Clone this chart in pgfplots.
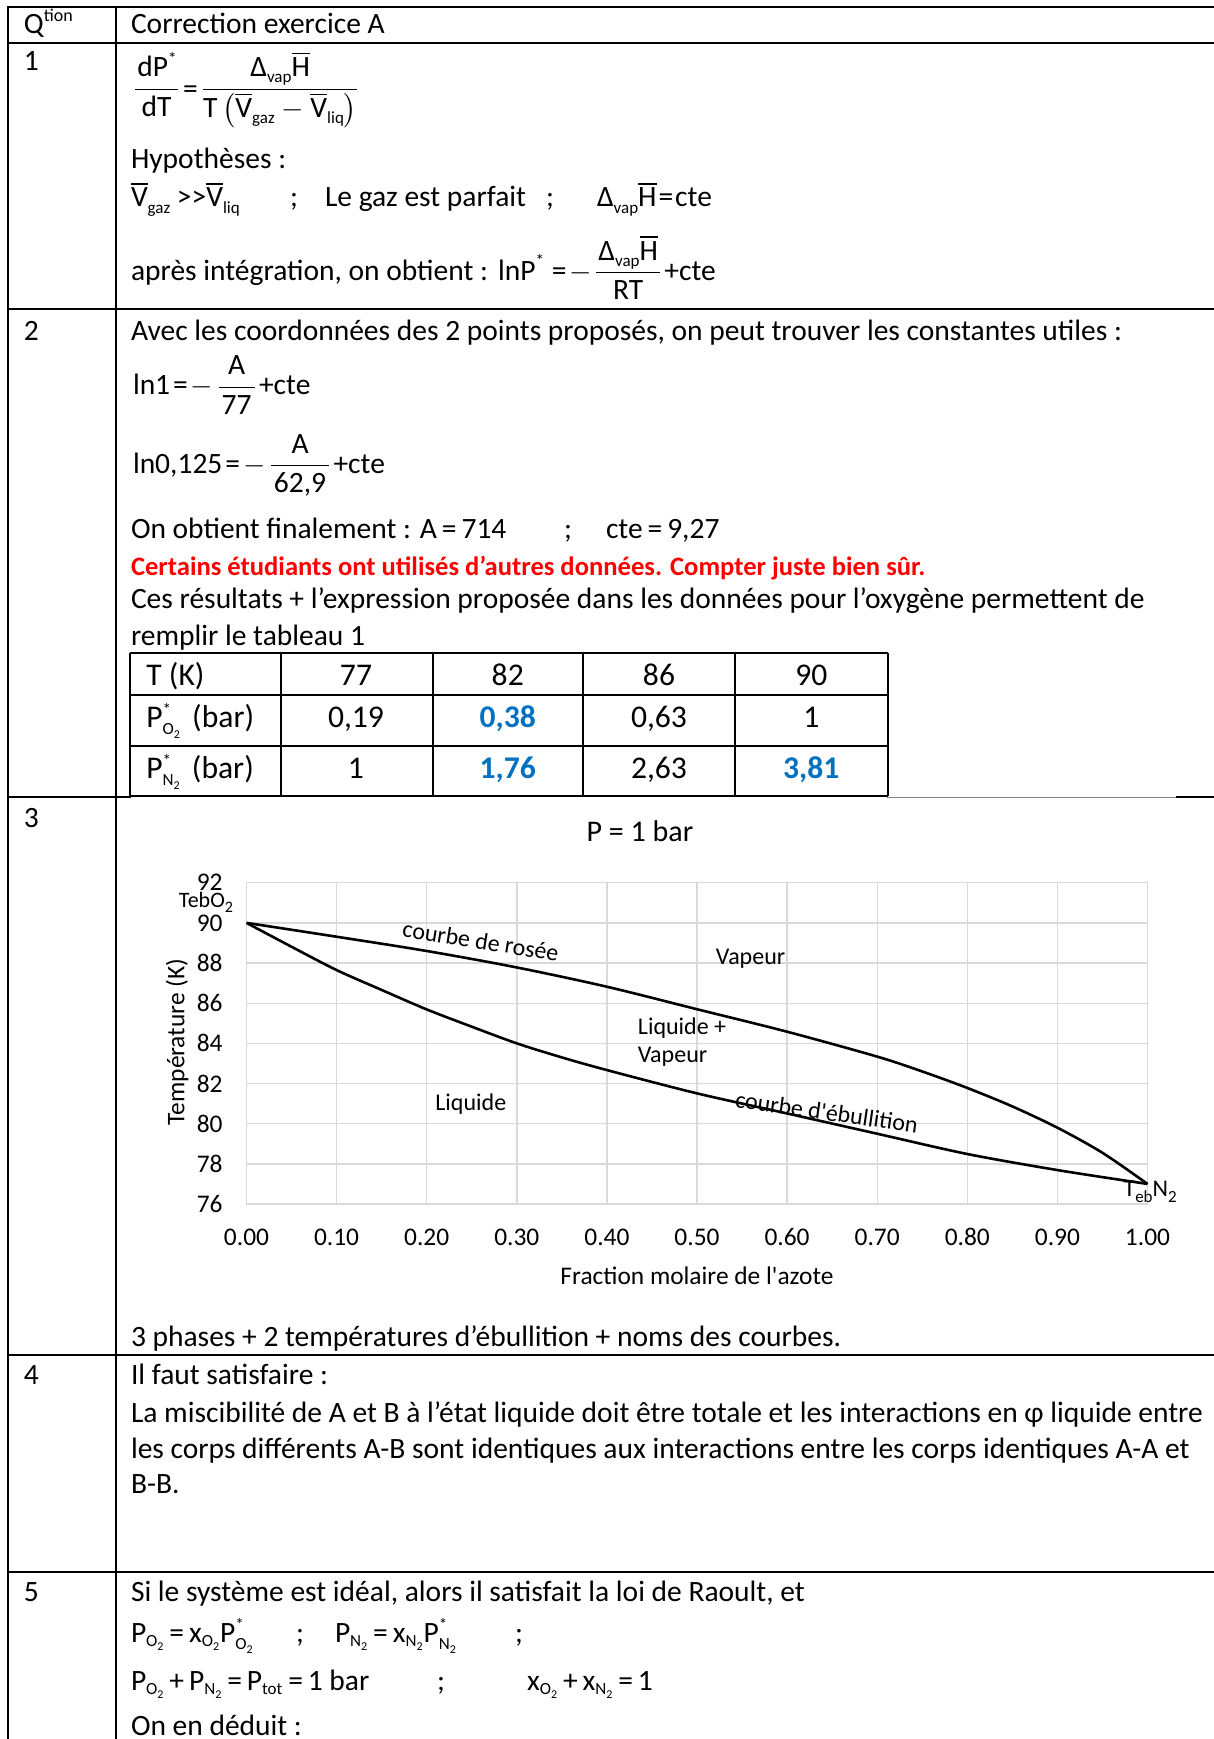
\documentclass[border=0pt]{standalone}
\usepackage{amsmath}
\usepackage{pgfplots}
\pgfplotsset{compat=1.18}
\usepackage{fontspec}
\setmainfont{Carlito}
\definecolor{redtxt}{HTML}{FF0000}
\definecolor{bluetxt}{HTML}{0070C0}
\definecolor{gridc}{HTML}{D9D9D9}
\newcommand{\fs}[1]{\fontsize{#1}{#1}\selectfont}
\newcommand{\lo}[1]{\raisebox{-3pt}{\fs{8.5}#1}}
\newcommand{\llo}[1]{\raisebox{-2pt}{\fs{6}#1}}
\newcommand{\ovl}[1]{\ensuremath{\overline{\hbox{#1}}}}
\newcommand{\Ps}[1]{\ensuremath{\hbox{P}^{\hbox{\fs{8.5}*}}_{\hbox{\fs{8.5}#1}}}}
\newcommand{\Pn}[1]{\ensuremath{\hbox{P}_{\hbox{\fs{8.5}#1}}}}
\newcommand{\xn}[1]{\ensuremath{\hbox{x}_{\hbox{\fs{8.5}#1}}}}
\newcommand{\Otwo}{O\llo{2}}
\newcommand{\Ntwo}{N\llo{2}}
\newcommand{\mn}{\ensuremath{-}}
\begin{document}
\begin{tikzpicture}
\useasboundingbox (0,0) rectangle (607pt,-869.5pt);
\begin{scope}[x=0.5pt,y=-0.5pt, every node/.style={inner sep=0pt, outer sep=0pt, anchor=base west, font=\fs{14.75}}]
% outer table lines
\draw[line width=1.3pt] (8,7) -- (1214,7);
\foreach \yy in {43,309,1355,1572} \draw[line width=1pt] (8,\yy) -- (1214,\yy);
\draw[line width=1pt] (8,6.5) -- (8,1739);
\draw[line width=1pt] (116,6.5) -- (116,1739);
\draw[line width=1pt] (8,797) -- (131,797);
\draw[line width=0.5pt, gray] (887,797) -- (1176,797);
\draw[line width=1pt] (1176,797) -- (1214,797);
% inner table
\foreach \yy in {653,695,746,796} \draw[line width=1pt] (130,\yy) -- (887.6,\yy);
\foreach \xx in {130,281,432.5,583,735,887.6} \draw[line width=1pt] (\xx,653) -- (\xx,796);
% header
\node at (24,34) {Q\raisebox{6pt}{\fs{9}tion}};
\node at (131,34) {Correction exercice A};
% row 1
\node at (24,71) {1};
\node at (133,96.3) {$\dfrac{\hbox{\kern1pt dP}^{\hbox{\fs{8.5}*}}}{\hbox{dT}}\hbox{\kern1.5pt\raisebox{-1.2pt}{=}\kern1.5pt}\dfrac{\hbox{Δ\lo{vap}\ovl{H}}}{\hbox{T}\left(\hbox{\ovl{V}\lo{gaz}}\hbox{ \mn{} }\hbox{\ovl{V}\lo{liq}}\right)}$};
\node at (131,169) {Hypothèses :};
\node at (131,207) {\ovl{V}\lo{gaz}\ >{}>\ovl{V}\lo{liq}};
\node at (290,207) {;};
\node at (325,207) {Le gaz est parfait};
\node at (546,207) {;};
\node at (597,207) {Δ\lo{vap}\ovl{H}\kern1pt=\kern1pt cte};
\node at (131,280) {après intégration, on obtient :};
\node at (498,280) {lnP\raisebox{7pt}{\fs{8.5}*}\kern4pt=\kern1.5pt\mn\kern1pt$\dfrac{\hbox{\kern1pt Δ\lo{vap}\ovl{H}\kern1pt}}{\hbox{RT}}$\kern1pt+cte};
% row 2
\node at (24,340) {2};
\node at (131,340) {Avec les coordonnées des 2 points proposés, on peut trouver les constantes utiles :};
\node at (133,394.3) {ln1\kern1.5pt=\kern1.5pt\mn\kern1.5pt$\dfrac{\hbox{\kern2pt A\kern2pt}}{\hbox{\kern1.5pt 77\kern1.5pt}}$\kern1pt+cte};
\node at (133,473) {ln0,125\kern1.5pt=\kern1.5pt\mn\kern1.5pt$\dfrac{\hbox{A}}{\hbox{\kern1.5pt 62,9\kern1.5pt}}$\kern1pt+cte};
\node at (131,538) {On obtient finalement : A\,=\,714};
\node at (564,538) {;};
\node at (606,538) {cte\,=\,9,27};
\node[text=redtxt, font=\fs{13.3}\bfseries] at (131,575) {Certains étudiants ont utilisés d’autres données. Compter juste bien sûr.};
\node at (131,608) {Ces résultats + l’expression proposée dans les données pour l’oxygène permettent de};
\node at (131,645) {remplir le tableau 1};
% inner table text
\begin{scope}[every node/.style={inner sep=0pt, anchor=base, font=\fs{15.8}}]
\node[anchor=base west] at (146,685) {T (K)};
\node at (356,685) {77};
\node at (507.75,685) {82};
\node at (659,685) {86};
\node at (811.3,685) {90};
\node[anchor=base west] at (146,727) {\Ps{\Otwo}\kern2pt\ (bar)};
\node at (356,727) {0,19};
\node[text=bluetxt, font=\fs{15.8}\bfseries] at (507.75,727) {0,38};
\node at (659,727) {0,63};
\node at (811.3,727) {1};
\node[anchor=base west] at (146,778) {\Ps{\Ntwo}\kern2pt\ (bar)};
\node at (356,778) {1};
\node[text=bluetxt, font=\fs{15.8}\bfseries] at (507.75,778) {1,76};
\node at (659,778) {2,63};
\node[text=bluetxt, font=\fs{15.8}\bfseries] at (811.3,778) {3,81};
\end{scope}
% row 3
\node at (24,827) {3};
\node at (131,1346) {3 phases + 2 températures d’ébullition + noms des courbes.};
% row 4
\node at (24,1384) {4};
\node at (131,1384) {Il faut satisfaire :};
\node at (131,1422) {La miscibilité de A et B à l’état liquide doit être totale et les interactions en φ liquide entre};
\node at (131,1458.5) {les corps différents A-B sont identiques aux interactions entre les corps identiques A-A et};
\node at (131,1493) {B-B.};
% row 5
\node at (24,1601.5) {5};
\node at (131,1601.5) {Si le système est idéal, alors il satisfait la loi de Raoult, et};
\node at (131,1642) {\Pn{\Otwo}\,=\,\xn{\Otwo}\Ps{\Otwo}};
\node at (296,1642) {;};
\node at (335,1642) {\Pn{\Ntwo}\,=\,\xn{\Ntwo}\Ps{\Ntwo}};
\node at (515,1642) {;};
\node at (131,1690) {\Pn{\Otwo}\,+\,\Pn{\Ntwo}\,=\,\Pn{tot}\,=\,1 bar};
\node at (437,1690) {;};
\node at (527,1690) {\xn{\Otwo}\,+\,\xn{\Ntwo}\,=\,1};
\node at (131,1735) {On en déduit :};
\end{scope}
\begin{axis}[
  at={(123.25pt,-602pt)}, anchor=south west,
  scale only axis, width=450.5pt, height=160.65pt,
  xmin=0, xmax=1, ymin=76, ymax=92, clip=false,
  xtick={0,0.1,0.2,0.3,0.4,0.5,0.6,0.7,0.8,0.9,1},
  ytick={76,78,80,82,84,86,88,90,92},
  grid=major, major grid style={draw=gridc, line width=0.7pt},
  axis line style={draw=gridc, line width=0.7pt},
  major tick length=0pt,
  /pgf/number format/assume math mode=true,
  xticklabel style={/pgf/number format/fixed, /pgf/number format/fixed zerofill, /pgf/number format/precision=2, anchor=center, yshift=-16.5pt, font=\fs{12.7}},
  yticklabel style={anchor=east, inner sep=0pt, xshift=-11.75pt, font=\fs{12.7}},
  xlabel={Fraction molaire de l\textquotesingle azote},
  xlabel style={at={(axis description cs:0.5,-0.224)}, anchor=center, font=\fs{12.7}},
  ylabel={Température (K)},
  ylabel style={at={(axis description cs:-0.0771,0.504)}, anchor=center, font=\fs{12.7}},
  title={P = 1 bar},
  title style={at={(axis description cs:0.4367,1.1236)}, anchor=center, font=\fs{15}},
]
\addplot[black, line width=1.3pt, smooth] coordinates {
(0,90) (0.1,89.31) (0.2,88.6) (0.3,87.78) (0.4,86.82) (0.5,85.7) (0.6,84.58) (0.7,83.34) (0.75,82.6) (0.8,81.78) (0.85,80.86) (0.9,79.8) (0.95,78.55) (1,77.0)};
\addplot[black, line width=1.3pt, smooth] coordinates {
(0,90) (0.05,88.81) (0.1,87.65) (0.15,86.66) (0.2,85.69) (0.25,84.83) (0.3,84.0) (0.35,83.3) (0.4,82.67) (0.5,81.51) (0.6,80.51) (0.7,79.5) (0.8,78.49) (0.9,77.69) (1,77.0)};
\node[rotate=-9, font=\fs{12}] at (axis cs:0.26,89.1) {courbe de rosée};
\node[font=\fs{12}] at (axis cs:0.5595,88.2) {Vapeur};
\node[anchor=west, inner sep=0pt, font=\fs{12}] at (axis cs:0.434,84.76) {Liquide +};
\node[anchor=west, inner sep=0pt, font=\fs{12}] at (axis cs:0.434,83.34) {Vapeur};
\node[font=\fs{12}] at (axis cs:0.249,80.98) {Liquide};
\node[rotate=-8, font=\fs{12}] at (axis cs:0.644,80.58) {courbe d\textquotesingle ébullition};
\node[anchor=west, inner sep=0pt, font=\fs{12}] at (axis cs:0.973,76.6) {T\raisebox{-3pt}{\fs{8.5}eb}N\raisebox{-3pt}{\fs{8.5}2}};
\node[font=\fs{11}] at (axis cs:-0.045,91.04) {TebO\raisebox{-2.5pt}{\fs{8}2}};
\end{axis}
\end{tikzpicture}
\end{document}
